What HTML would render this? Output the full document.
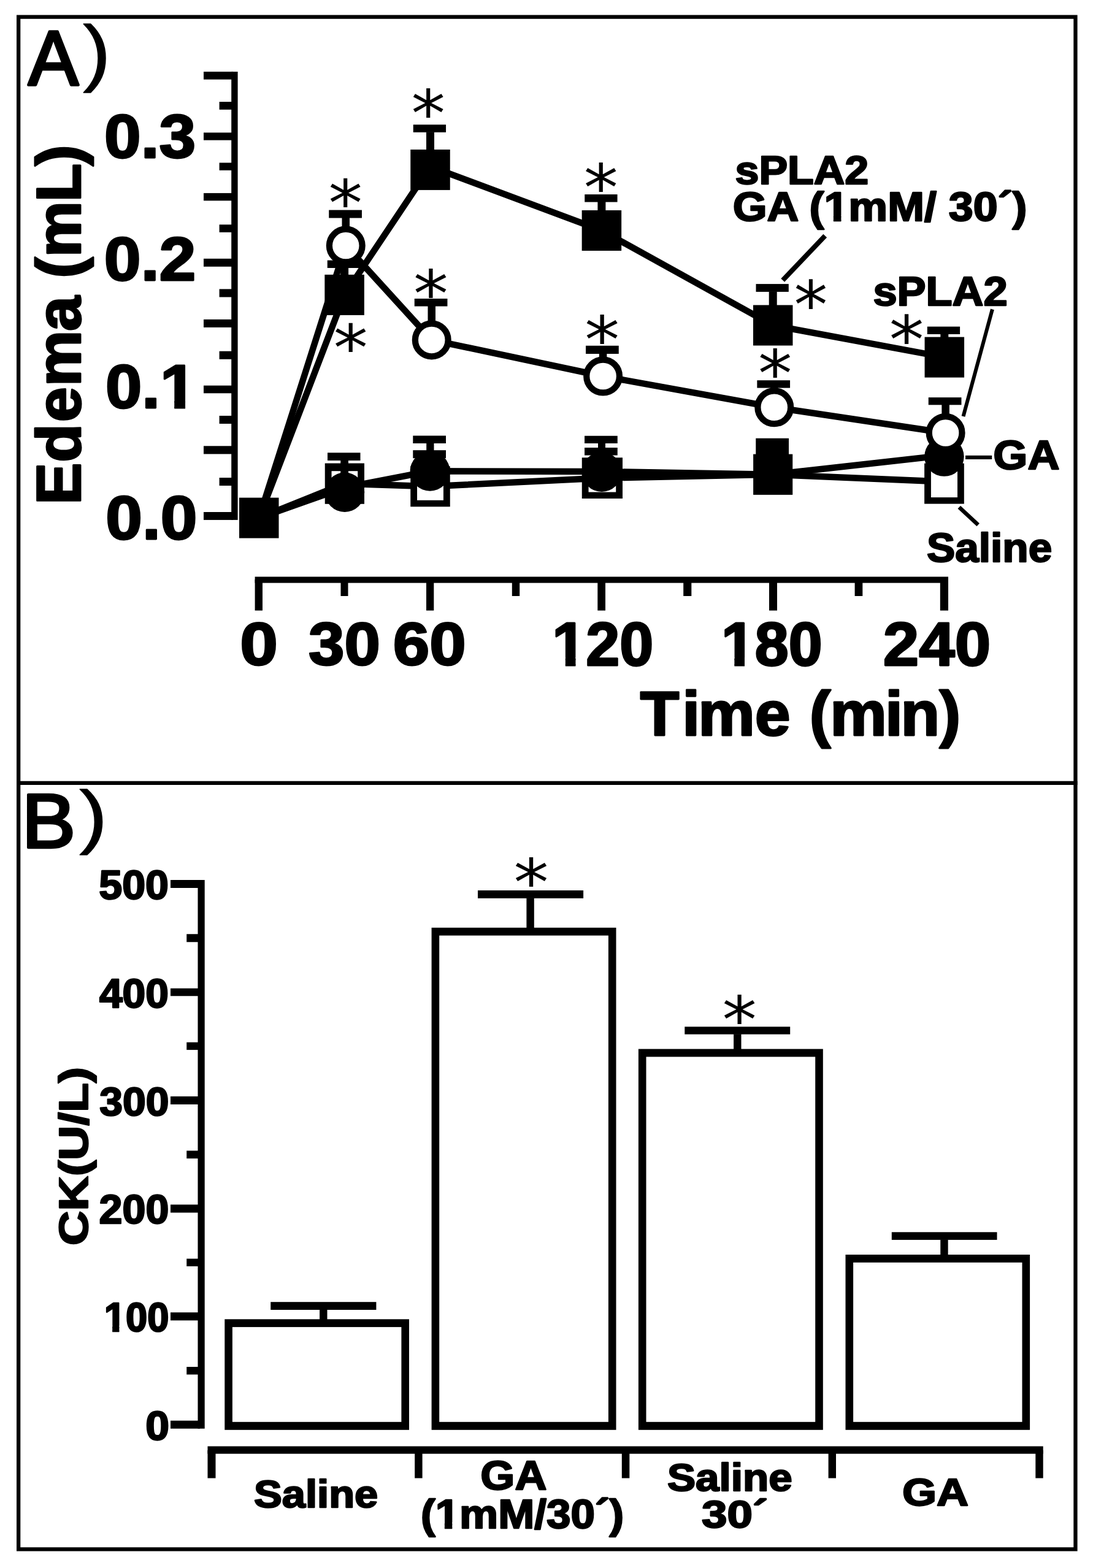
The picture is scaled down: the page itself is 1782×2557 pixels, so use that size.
<!DOCTYPE html>
<html><head><meta charset="utf-8"><title>Figure</title>
<style>html,body{margin:0;padding:0;background:#fff;overflow:hidden;width:1782px;height:2557px;}svg{display:block;}</style></head>
<body><svg width="1782" height="2557" viewBox="0 0 1782 2557">
<defs><clipPath id="c_y01" clipPathUnits="userSpaceOnUse"><path clip-rule="evenodd" d="M-100,-300 H220.490625 V200 H-100 Z M86.83,-13.06 H105.23 V5.92 H86.83 Z M121.95,-13.06 H138.65 V5.92 H121.95 Z"/></clipPath><clipPath id="c_x120" clipPathUnits="userSpaceOnUse"><path clip-rule="evenodd" d="M-100,-300 H263.0 V200 H-100 Z M3.39,-13.11 H21.79 V6.03 H3.39 Z M38.61,-13.11 H55.31 V6.03 H38.61 Z"/></clipPath><clipPath id="c_x180" clipPathUnits="userSpaceOnUse"><path clip-rule="evenodd" d="M-100,-300 H263.0 V200 H-100 Z M3.39,-13.11 H21.79 V6.03 H3.39 Z M38.61,-13.11 H55.31 V6.03 H38.61 Z"/></clipPath><clipPath id="c_lab2" clipPathUnits="userSpaceOnUse"><path clip-rule="evenodd" d="M-100,-300 H764.0 V200 H-100 Z M210.44,-13.42 H228.84 V6.63 H210.44 Z M246.28,-13.42 H262.98 V6.63 H246.28 Z"/></clipPath><clipPath id="c_b100" clipPathUnits="userSpaceOnUse"><path clip-rule="evenodd" d="M-100,-300 H263.0 V200 H-100 Z M2.97,-13.53 H21.37 V6.85 H2.97 Z M39.03,-13.53 H55.73 V6.85 H39.03 Z"/></clipPath><clipPath id="c_c2b" clipPathUnits="userSpaceOnUse"><path clip-rule="evenodd" d="M-100,-300 H562.0 V200 H-100 Z M36.38,-13.42 H54.78 V6.63 H36.38 Z M72.21,-13.42 H88.91 V6.63 H72.21 Z"/></clipPath></defs>
<rect x="0" y="0" width="1782" height="2557" fill="#fff"/>
<rect x="30.15" y="27.6" width="1723.3" height="2498.8" fill="none" stroke="#000" stroke-width="6.3"/>
<rect x="27.00" y="1273.75" width="1729.50" height="6.25" fill="#000"/>
<rect x="377.20" y="116.90" width="10.40" height="731.00" fill="#000"/>
<rect x="332.00" y="116.90" width="48.00" height="12.70" fill="#000"/>
<rect x="357.60" y="166.00" width="22.40" height="12.75" fill="#000"/>
<rect x="332.00" y="216.25" width="48.00" height="12.35" fill="#000"/>
<rect x="357.60" y="265.40" width="22.40" height="12.35" fill="#000"/>
<rect x="332.00" y="314.90" width="48.00" height="12.35" fill="#000"/>
<rect x="357.60" y="366.25" width="22.40" height="12.55" fill="#000"/>
<rect x="332.00" y="421.80" width="48.00" height="13.00" fill="#000"/>
<rect x="357.60" y="471.40" width="22.40" height="13.10" fill="#000"/>
<rect x="332.00" y="520.90" width="48.00" height="13.00" fill="#000"/>
<rect x="357.60" y="572.70" width="22.40" height="13.10" fill="#000"/>
<rect x="332.00" y="628.70" width="48.00" height="12.60" fill="#000"/>
<rect x="357.60" y="678.00" width="22.40" height="13.00" fill="#000"/>
<rect x="332.00" y="727.30" width="48.00" height="13.10" fill="#000"/>
<rect x="357.60" y="779.00" width="22.40" height="13.00" fill="#000"/>
<rect x="332.00" y="835.00" width="48.00" height="12.90" fill="#000"/>
<rect x="415.60" y="940.50" width="1130.40" height="10.10" fill="#000"/>
<rect x="415.60" y="945.00" width="12.40" height="50.60" fill="#000"/>
<rect x="555.50" y="945.00" width="12.00" height="27.00" fill="#000"/>
<rect x="695.00" y="945.00" width="12.30" height="50.60" fill="#000"/>
<rect x="834.80" y="945.00" width="12.40" height="27.00" fill="#000"/>
<rect x="974.30" y="945.00" width="12.70" height="50.60" fill="#000"/>
<rect x="1114.20" y="945.00" width="13.10" height="27.00" fill="#000"/>
<rect x="1254.00" y="945.00" width="13.00" height="50.60" fill="#000"/>
<rect x="1393.60" y="945.00" width="12.70" height="27.00" fill="#000"/>
<rect x="1532.80" y="945.00" width="13.20" height="50.60" fill="#000"/>
<path d="M422.25,844.60 L561.90,788.65 L701.50,793.30 L981.90,779.60 L1260.20,773.75 L1539.40,785.50" fill="none" stroke="#000" stroke-width="10.5" stroke-linejoin="miter" stroke-linecap="butt"/>
<rect x="694.00" y="746.75" width="12.30" height="13.55" fill="#000"/>
<rect x="673.30" y="734.20" width="53.70" height="13.05" fill="#000"/>
<rect x="973.90" y="742.00" width="12.00" height="4.25" fill="#000"/>
<rect x="953.05" y="730.00" width="53.70" height="12.50" fill="#000"/>
<rect x="529.75" y="755.50" width="64.25" height="66.30" fill="#000"/>
<rect x="540.55" y="768.20" width="42.65" height="43.10" fill="#fff"/>
<rect x="669.25" y="760.30" width="64.50" height="66.00" fill="#000"/>
<rect x="680.05" y="772.30" width="42.90" height="43.50" fill="#fff"/>
<rect x="948.75" y="746.25" width="66.25" height="66.75" fill="#000"/>
<rect x="959.55" y="758.25" width="44.65" height="44.25" fill="#fff"/>
<rect x="1507.10" y="755.60" width="64.70" height="66.00" fill="#000"/>
<rect x="1517.90" y="767.60" width="43.10" height="43.50" fill="#fff"/>
<path d="M422.25,844.60 L562.00,795.00 L701.00,768.30 L981.00,769.00 L1260.20,773.75 L1539.40,742.50" fill="none" stroke="#000" stroke-width="10.5" stroke-linejoin="miter" stroke-linecap="butt"/>
<rect x="555.23" y="750.50" width="12.75" height="24.50" fill="#000"/>
<rect x="534.00" y="738.25" width="53.50" height="12.75" fill="#000"/>
<rect x="695.20" y="722.50" width="12.30" height="22.50" fill="#000"/>
<rect x="673.30" y="710.50" width="53.70" height="12.50" fill="#000"/>
<rect x="975.00" y="722.50" width="12.00" height="22.50" fill="#000"/>
<rect x="953.05" y="710.75" width="53.70" height="12.25" fill="#000"/>
<rect x="1232.25" y="714.75" width="53.75" height="27.25" fill="#000"/>
<circle cx="562.00" cy="802.75" r="32.25" fill="#000"/>
<circle cx="701.00" cy="768.30" r="32.40" fill="#000"/>
<circle cx="981.00" cy="769.50" r="32.40" fill="#000"/>
<rect x="1228.10" y="740.60" width="64.15" height="66.30" fill="#000"/>
<circle cx="1539.40" cy="744.60" r="32.25" fill="#000"/>
<path d="M422.25,844.60 L563.75,400.60 L703.75,554.40 L983.10,613.50 L1262.25,664.25 L1541.60,706.00" fill="none" stroke="#000" stroke-width="10.5" stroke-linejoin="miter" stroke-linecap="butt"/>
<rect x="557.50" y="355.00" width="12.50" height="20.60" fill="#000"/>
<rect x="536.25" y="342.50" width="53.70" height="13.00" fill="#000"/>
<rect x="697.50" y="499.00" width="12.50" height="30.40" fill="#000"/>
<rect x="675.75" y="487.00" width="53.70" height="12.50" fill="#000"/>
<rect x="976.85" y="576.50" width="12.50" height="12.00" fill="#000"/>
<rect x="955.05" y="563.75" width="53.70" height="13.25" fill="#000"/>
<rect x="1256.00" y="632.10" width="12.50" height="7.15" fill="#000"/>
<rect x="1234.35" y="620.20" width="53.70" height="12.40" fill="#000"/>
<rect x="1535.35" y="659.80" width="12.50" height="21.20" fill="#000"/>
<rect x="1513.75" y="648.10" width="53.70" height="12.20" fill="#000"/>
<circle cx="563.75" cy="400.60" r="26.88" fill="#fff" stroke="#000" stroke-width="10.25"/>
<circle cx="703.75" cy="554.40" r="26.88" fill="#fff" stroke="#000" stroke-width="10.25"/>
<circle cx="983.10" cy="613.50" r="26.88" fill="#fff" stroke="#000" stroke-width="10.25"/>
<circle cx="1262.25" cy="664.25" r="26.88" fill="#fff" stroke="#000" stroke-width="10.25"/>
<circle cx="1541.60" cy="706.00" r="26.88" fill="#fff" stroke="#000" stroke-width="10.25"/>
<path d="M422.25,844.60 L561.60,480.90 L701.50,271.50 L980.90,375.90 L1260.20,530.50 L1539.80,582.60" fill="none" stroke="#000" stroke-width="10.5" stroke-linejoin="miter" stroke-linecap="butt"/>
<rect x="555.10" y="436.50" width="13.00" height="24.40" fill="#000"/>
<rect x="533.75" y="424.50" width="53.30" height="12.50" fill="#000"/>
<rect x="695.00" y="215.25" width="13.00" height="41.65" fill="#000"/>
<rect x="673.75" y="203.25" width="53.30" height="12.50" fill="#000"/>
<rect x="974.40" y="329.00" width="13.00" height="26.90" fill="#000"/>
<rect x="953.25" y="317.00" width="53.30" height="12.50" fill="#000"/>
<rect x="1253.70" y="475.40" width="13.00" height="35.10" fill="#000"/>
<rect x="1232.50" y="463.10" width="53.30" height="12.80" fill="#000"/>
<rect x="1533.30" y="544.50" width="13.00" height="18.10" fill="#000"/>
<rect x="1511.80" y="532.60" width="53.30" height="12.40" fill="#000"/>
<rect x="390.00" y="811.60" width="64.50" height="66.00" fill="#000"/>
<rect x="529.35" y="447.90" width="64.50" height="66.00" fill="#000"/>
<rect x="669.25" y="243.90" width="64.50" height="66.00" fill="#000"/>
<rect x="948.65" y="342.90" width="64.50" height="66.00" fill="#000"/>
<rect x="1227.95" y="497.50" width="64.50" height="66.00" fill="#000"/>
<rect x="1507.55" y="549.60" width="64.50" height="66.00" fill="#000"/>
<path d="M1345.20,384.50 L1276.20,457.00" fill="none" stroke="#000" stroke-width="8" stroke-linejoin="miter" stroke-linecap="butt"/>
<path d="M1617.90,504.40 L1570.50,679.00" fill="none" stroke="#000" stroke-width="6" stroke-linejoin="miter" stroke-linecap="butt"/>
<rect x="1574.00" y="742.80" width="43.20" height="6.20" fill="#000"/>
<path d="M1563.75,827.20 L1594.70,855.90" fill="none" stroke="#000" stroke-width="6.5" stroke-linejoin="miter" stroke-linecap="butt"/>
<rect x="322.50" y="1435.00" width="11.20" height="894.70" fill="#000"/>
<rect x="278.00" y="1435.00" width="48.00" height="13.00" fill="#000"/>
<rect x="304.25" y="1523.25" width="21.75" height="13.00" fill="#000"/>
<rect x="278.00" y="1611.75" width="48.00" height="12.50" fill="#000"/>
<rect x="304.25" y="1699.70" width="21.75" height="12.40" fill="#000"/>
<rect x="278.00" y="1787.90" width="48.00" height="13.10" fill="#000"/>
<rect x="304.25" y="1876.50" width="21.75" height="12.70" fill="#000"/>
<rect x="278.00" y="1964.40" width="48.00" height="13.10" fill="#000"/>
<rect x="304.25" y="2052.60" width="21.75" height="12.40" fill="#000"/>
<rect x="278.00" y="2140.20" width="48.00" height="13.10" fill="#000"/>
<rect x="304.25" y="2229.00" width="21.75" height="12.50" fill="#000"/>
<rect x="278.00" y="2316.70" width="48.00" height="13.00" fill="#000"/>
<rect x="521.10" y="2135.50" width="12.40" height="17.80" fill="#000"/>
<rect x="441.25" y="2123.20" width="172.15" height="12.80" fill="#000"/>
<rect x="366.30" y="2151.30" width="300.70" height="180.50" fill="#000"/>
<rect x="378.90" y="2164.10" width="275.50" height="154.70" fill="#fff"/>
<rect x="858.40" y="1464.40" width="12.40" height="50.40" fill="#000"/>
<rect x="779.00" y="1452.00" width="172.10" height="12.90" fill="#000"/>
<rect x="703.60" y="1512.80" width="300.90" height="819.00" fill="#000"/>
<rect x="716.20" y="1525.60" width="275.70" height="793.20" fill="#fff"/>
<rect x="1196.10" y="1686.20" width="12.40" height="26.40" fill="#000"/>
<rect x="1116.30" y="1674.30" width="171.90" height="12.40" fill="#000"/>
<rect x="1040.90" y="1710.60" width="300.90" height="621.20" fill="#000"/>
<rect x="1053.50" y="1723.40" width="275.70" height="595.40" fill="#fff"/>
<rect x="1533.25" y="2021.40" width="12.40" height="26.60" fill="#000"/>
<rect x="1453.80" y="2009.30" width="171.70" height="12.60" fill="#000"/>
<rect x="1378.50" y="2046.00" width="300.60" height="285.80" fill="#000"/>
<rect x="1391.10" y="2058.80" width="275.40" height="260.00" fill="#fff"/>
<rect x="338.50" y="2358.50" width="1362.20" height="12.20" fill="#000"/>
<rect x="338.50" y="2365.00" width="13.00" height="45.50" fill="#000"/>
<rect x="676.20" y="2365.00" width="12.40" height="45.50" fill="#000"/>
<rect x="1013.80" y="2365.00" width="12.50" height="45.50" fill="#000"/>
<rect x="1350.60" y="2365.00" width="12.40" height="45.50" fill="#000"/>
<rect x="1688.30" y="2365.00" width="12.40" height="45.50" fill="#000"/>
<g fill="#000">
<text transform="translate(46.00,138.35) scale(1.2295,1.2696)" font-family="Liberation Sans, sans-serif" font-weight="normal" font-size="100" stroke="#000" stroke-width="3.602" stroke-linejoin="round">A</text>
<text transform="translate(135.40,126.39) scale(1.3462,1.2074)" font-family="Liberation Sans, sans-serif" font-weight="normal" font-size="100" stroke="#000" stroke-width="1.177" stroke-linejoin="round">)</text>
<text transform="translate(170.11,256.90) scale(1.0733,0.9929)" font-family="Liberation Sans, sans-serif" font-weight="bold" font-size="100" stroke="#000" stroke-width="2.906" stroke-linejoin="round">0.3</text>
<text transform="translate(169.79,456.90) scale(1.0771,1.0000)" font-family="Liberation Sans, sans-serif" font-weight="bold" font-size="100" stroke="#000" stroke-width="2.891" stroke-linejoin="round">0.2</text>
<text transform="translate(172.04,665.40) scale(1.0662,0.9929)" font-family="Liberation Sans, sans-serif" font-weight="bold" font-size="100" stroke="#000" stroke-width="2.916" stroke-linejoin="round" clip-path="url(#c_y01)">0.1</text>
<text transform="translate(172.20,878.50) scale(1.0740,0.9964)" font-family="Liberation Sans, sans-serif" font-weight="bold" font-size="100" stroke="#000" stroke-width="2.900" stroke-linejoin="round">0.0</text>
<text transform="translate(391.31,1084.10) scale(1.1096,0.9743)" font-family="Liberation Sans, sans-serif" font-weight="bold" font-size="100" stroke="#000" stroke-width="2.885" stroke-linejoin="round">0</text>
<text transform="translate(503.10,1084.10) scale(1.0505,0.9743)" font-family="Liberation Sans, sans-serif" font-weight="bold" font-size="100" stroke="#000" stroke-width="2.965" stroke-linejoin="round">30</text>
<text transform="translate(640.82,1084.10) scale(1.0699,0.9743)" font-family="Liberation Sans, sans-serif" font-weight="bold" font-size="100" stroke="#000" stroke-width="2.938" stroke-linejoin="round">60</text>
<text transform="translate(900.26,1085.10) scale(0.9892,0.9943)" font-family="Liberation Sans, sans-serif" font-weight="bold" font-size="100" stroke="#000" stroke-width="3.025" stroke-linejoin="round" clip-path="url(#c_x120)">120</text>
<text transform="translate(1175.88,1085.10) scale(0.9873,0.9943)" font-family="Liberation Sans, sans-serif" font-weight="bold" font-size="100" stroke="#000" stroke-width="3.028" stroke-linejoin="round" clip-path="url(#c_x180)">180</text>
<text transform="translate(1439.85,1085.10) scale(1.0500,0.9943)" font-family="Liberation Sans, sans-serif" font-weight="bold" font-size="100" stroke="#000" stroke-width="2.936" stroke-linejoin="round">240</text>
<text x="3.84 69.73 94.63 183.36 231.58 268.88 301.12 387.39 411.68 472.28" transform="translate(1039.71,1199.00) scale(1.0413,1.0174)" font-family="Liberation Sans, sans-serif" font-weight="bold" font-size="100" stroke="#000" stroke-width="2.915" stroke-linejoin="round">Time (min)</text>
<text transform="translate(1198.55,300.25) scale(0.6997,0.6514)" font-family="Liberation Sans, sans-serif" font-weight="bold" font-size="100" stroke="#000" stroke-width="3.703" stroke-linejoin="round">sPLA2</text>
<text transform="translate(1194.63,360.35) scale(0.7177,0.6600)" font-family="Liberation Sans, sans-serif" font-weight="bold" font-size="100" stroke="#000" stroke-width="3.633" stroke-linejoin="round" clip-path="url(#c_lab2)">GA (1mM/ 30´)</text>
<text transform="translate(1423.43,497.95) scale(0.7043,0.6614)" font-family="Liberation Sans, sans-serif" font-weight="bold" font-size="100" stroke="#000" stroke-width="3.663" stroke-linejoin="round">sPLA2</text>
<text transform="translate(1619.37,764.65) scale(0.7203,0.6686)" font-family="Liberation Sans, sans-serif" font-weight="bold" font-size="100" stroke="#000" stroke-width="3.603" stroke-linejoin="round">GA</text>
<text transform="translate(1510.97,915.55) scale(0.6937,0.6743)" font-family="Liberation Sans, sans-serif" font-weight="bold" font-size="100" stroke="#000" stroke-width="3.655" stroke-linejoin="round">Saline</text>
<text x="1.94 69.11 132.92 189.26 276.97 327.92 360.46 393.75 481.03 538.51" transform="translate(130.50,825.31) rotate(-90) scale(1.0305,1.0145)" font-family="Liberation Sans, sans-serif" font-weight="bold" font-size="100" stroke="#000" stroke-width="2.934" stroke-linejoin="round">Edema (mL)</text>
<text transform="translate(35.47,1381.50) scale(1.3160,1.2391)" font-family="Liberation Sans, sans-serif" font-weight="normal" font-size="100" stroke="#000" stroke-width="3.524" stroke-linejoin="round">B</text>
<text transform="translate(129.38,1370.40) scale(1.3654,1.1596)" font-family="Liberation Sans, sans-serif" font-weight="normal" font-size="100" stroke="#000" stroke-width="1.192" stroke-linejoin="round">)</text>
<text transform="translate(161.20,1466.25) scale(0.6828,0.6679)" font-family="Liberation Sans, sans-serif" font-weight="bold" font-size="100" stroke="#000" stroke-width="3.702" stroke-linejoin="round">500</text>
<text transform="translate(161.89,1642.50) scale(0.6786,0.6679)" font-family="Liberation Sans, sans-serif" font-weight="bold" font-size="100" stroke="#000" stroke-width="3.714" stroke-linejoin="round">400</text>
<text transform="translate(162.29,1818.65) scale(0.6789,0.6543)" font-family="Liberation Sans, sans-serif" font-weight="bold" font-size="100" stroke="#000" stroke-width="3.751" stroke-linejoin="round">300</text>
<text transform="translate(161.60,1995.15) scale(0.6831,0.6643)" font-family="Liberation Sans, sans-serif" font-weight="bold" font-size="100" stroke="#000" stroke-width="3.711" stroke-linejoin="round">200</text>
<text transform="translate(169.65,2170.95) scale(0.6338,0.6643)" font-family="Liberation Sans, sans-serif" font-weight="bold" font-size="100" stroke="#000" stroke-width="3.853" stroke-linejoin="round" clip-path="url(#c_b100)">100</text>
<text transform="translate(237.36,2348.05) scale(0.6979,0.6643)" font-family="Liberation Sans, sans-serif" font-weight="bold" font-size="100" stroke="#000" stroke-width="3.672" stroke-linejoin="round">0</text>
<text transform="translate(143.25,2030.88) rotate(-90) scale(0.7817,0.6614)" font-family="Liberation Sans, sans-serif" font-weight="bold" font-size="100" stroke="#000" stroke-width="3.477" stroke-linejoin="round">CK(U/L)</text>
<text transform="translate(413.99,2458.25) scale(0.6868,0.6386)" font-family="Liberation Sans, sans-serif" font-weight="bold" font-size="100" stroke="#000" stroke-width="3.775" stroke-linejoin="round">Saline</text>
<text transform="translate(783.37,2429.35) scale(0.7203,0.6729)" font-family="Liberation Sans, sans-serif" font-weight="bold" font-size="100" stroke="#000" stroke-width="3.591" stroke-linejoin="round">GA</text>
<text transform="translate(686.00,2491.75) scale(0.7098,0.6681)" font-family="Liberation Sans, sans-serif" font-weight="bold" font-size="100" stroke="#000" stroke-width="3.630" stroke-linejoin="round" clip-path="url(#c_c2b)">(1mM/30´)</text>
<text transform="translate(1087.97,2431.45) scale(0.6917,0.6257)" font-family="Liberation Sans, sans-serif" font-weight="bold" font-size="100" stroke="#000" stroke-width="3.800" stroke-linejoin="round">Saline</text>
<text transform="translate(1144.06,2490.65) scale(0.7464,0.6257)" font-family="Liberation Sans, sans-serif" font-weight="bold" font-size="100" stroke="#000" stroke-width="3.658" stroke-linejoin="round">30´</text>
<text transform="translate(1471.07,2454.55) scale(0.7203,0.6386)" font-family="Liberation Sans, sans-serif" font-weight="bold" font-size="100" stroke="#000" stroke-width="3.686" stroke-linejoin="round">GA</text>
<text transform="translate(535.43,368.13) scale(1.1080,1.0389)" font-family="DejaVu Sans, sans-serif" font-size="100">*</text>
<text transform="translate(670.43,222.29) scale(1.1080,1.0444)" font-family="DejaVu Sans, sans-serif" font-size="100">*</text>
<text transform="translate(543.64,604.47) scale(1.1193,1.0333)" font-family="DejaVu Sans, sans-serif" font-size="100">*</text>
<text transform="translate(674.09,515.61) scale(1.1364,1.0556)" font-family="DejaVu Sans, sans-serif" font-size="100">*</text>
<text transform="translate(951.64,343.11) scale(1.1193,1.0556)" font-family="DejaVu Sans, sans-serif" font-size="100">*</text>
<text transform="translate(953.34,590.61) scale(1.1364,1.0556)" font-family="DejaVu Sans, sans-serif" font-size="100">*</text>
<text transform="translate(1294.51,535.40) scale(1.0955,1.0689)" font-family="DejaVu Sans, sans-serif" font-size="100">*</text>
<text transform="translate(1236.07,646.45) scale(1.1091,1.0467)" font-family="DejaVu Sans, sans-serif" font-size="100">*</text>
<text transform="translate(1449.80,592.10) scale(1.1318,1.0689)" font-family="DejaVu Sans, sans-serif" font-size="100">*</text>
<text transform="translate(837.48,1476.28) scale(1.1409,1.0511)" font-family="DejaVu Sans, sans-serif" font-size="100">*</text>
<text transform="translate(1177.53,1699.88) scale(1.1250,1.0511)" font-family="DejaVu Sans, sans-serif" font-size="100">*</text>
</g>
</svg></body></html>
